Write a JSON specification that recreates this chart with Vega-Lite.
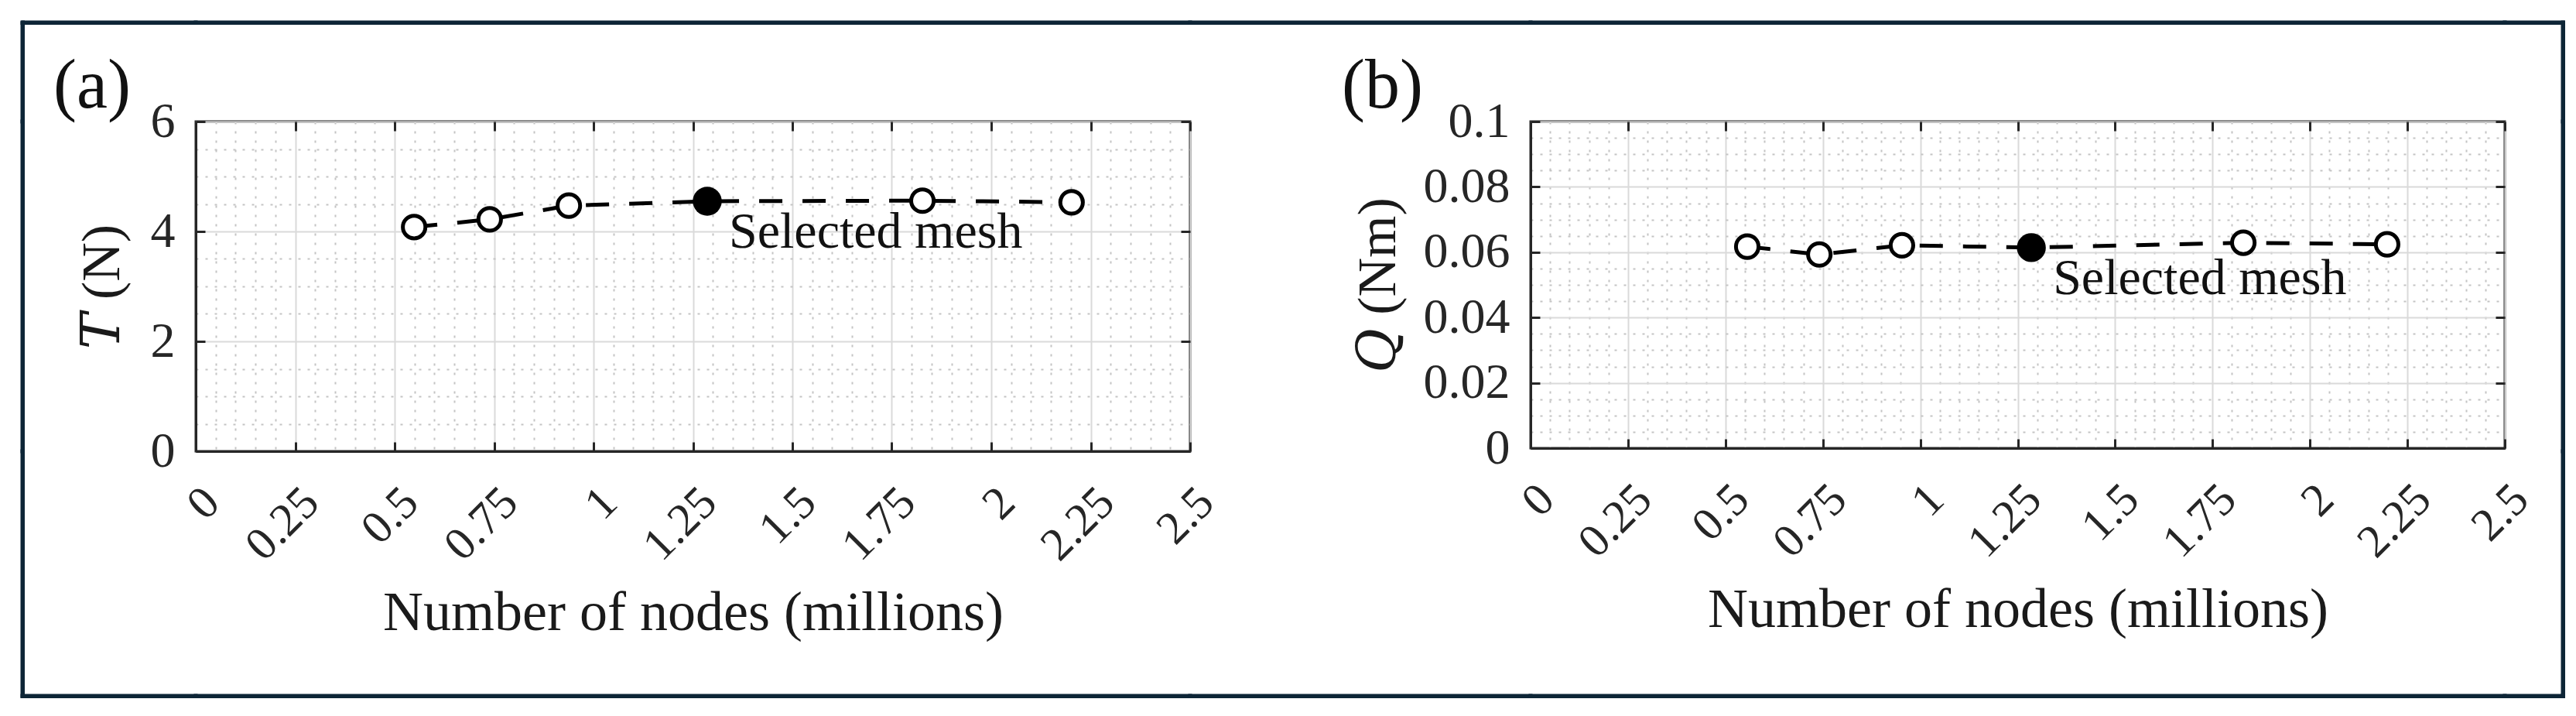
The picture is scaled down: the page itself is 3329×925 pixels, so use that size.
{
  "$schema": "https://vega.github.io/schema/vega-lite/v6.json",
  "background": "white",
  "padding": {"left": 26, "top": 26, "right": 0, "bottom": 0},
  "config": {"view": {"stroke": null}, "font": "Liberation Serif"},
  "concat": [
    {"width": 0.5, "height": 0.5, "data": {"values": []}, "mark": "point", "encoding": {}, "view": {"stroke": "#0d2536", "strokeWidth": 5}},
    {"width": 223, "height": 0.5, "data": {"values": []}, "mark": "point", "encoding": {}, "view": {"stroke": "#0d2536", "strokeWidth": 5}},
    {"width": 1285, "height": 0.5, "data": {"values": []}, "mark": "point", "encoding": {}, "view": {"stroke": "#0d2536", "strokeWidth": 5}},
    {"width": 440, "height": 0.5, "data": {"values": []}, "mark": "point", "encoding": {}, "view": {"stroke": "#0d2536", "strokeWidth": 5}},
    {"width": 1259, "height": 0.5, "data": {"values": []}, "mark": "point", "encoding": {}, "view": {"stroke": "#0d2536", "strokeWidth": 5}},
    {"width": 75, "height": 0.5, "data": {"values": []}, "mark": "point", "encoding": {}, "view": {"stroke": "#0d2536", "strokeWidth": 5}},
    {"width": 0.5, "height": 0.5, "data": {"values": []}, "mark": "point", "encoding": {}, "view": {"stroke": "#0d2536", "strokeWidth": 5}},

    {"width": 0.5, "height": 127, "data": {"values": []}, "mark": "point", "encoding": {}, "view": {"stroke": "#0d2536", "strokeWidth": 5}},
    {"width": 0.01, "height": 0.01, "data": {"values": []}, "mark": "point", "encoding": {}, "view": {"stroke": null}},
    {"width": 0.01, "height": 0.01, "data": {"values": []}, "mark": "point", "encoding": {}, "view": {"stroke": null}},
    {"width": 0.01, "height": 0.01, "data": {"values": []}, "mark": "point", "encoding": {}, "view": {"stroke": null}},
    {"width": 0.01, "height": 0.01, "data": {"values": []}, "mark": "point", "encoding": {}, "view": {"stroke": null}},
    {"width": 0.01, "height": 0.01, "data": {"values": []}, "mark": "point", "encoding": {}, "view": {"stroke": null}},
    {"width": 0.5, "height": 127, "data": {"values": []}, "mark": "point", "encoding": {}, "view": {"stroke": "#0d2536", "strokeWidth": 5}},

    {"width": 0.5, "height": 426, "data": {"values": []}, "mark": "point", "encoding": {}, "view": {"stroke": "#0d2536", "strokeWidth": 5}},
    {"width": 0.01, "height": 0.01, "data": {"values": []}, "mark": "point", "encoding": {}, "view": {"stroke": null}},
    {
      "width": 1285, "height": 426,
      "view": {"stroke": "#262626", "strokeWidth": 3},
      "title": {"text": "(a)", "anchor": "start", "frame": "group", "dx": -184, "offset": -104, "baseline": "alphabetic", "font": "Liberation Serif", "fontSize": 90, "fontWeight": "normal", "color": "#111111"},
      "data": {"values": [
        {"nodes": 0.549, "T": 4.08, "sel": false, "label": ""},
        {"nodes": 0.739, "T": 4.22, "sel": false, "label": ""},
        {"nodes": 0.938, "T": 4.47, "sel": false, "label": ""},
        {"nodes": 1.286, "T": 4.55, "sel": true, "label": "Selected mesh"},
        {"nodes": 1.827, "T": 4.56, "sel": false, "label": ""},
        {"nodes": 2.202, "T": 4.53, "sel": false, "label": ""}
      ]},
      "layer": [
        {
          "mark": {"type": "line", "color": "black", "strokeWidth": 5, "strokeDash": [30, 26]},
          "encoding": {
            "x": {"field": "nodes", "type": "quantitative", "scale": {"domain": [0, 2.5], "nice": false},
              "axis": {
                "values": [0,0.05,0.1,0.15,0.2,0.25,0.3,0.35,0.4,0.45,0.5,0.55,0.6,0.65,0.7,0.75,0.8,0.85,0.9,0.95,1,1.05,1.1,1.15,1.2,1.25,1.3,1.35,1.4,1.45,1.5,1.55,1.6,1.65,1.7,1.75,1.8,1.85,1.9,1.95,2,2.05,2.1,2.15,2.2,2.25,2.3,2.35,2.4,2.45,2.5],
                "labelExpr": "abs(datum.value*4-round(datum.value*4))<1e-6 ? format(datum.value,'~g') : ''",
                "labelAngle": -45, "labelAlign": "right", "labelBaseline": "top",
                "labelFont": "Liberation Serif", "labelFontSize": 60, "labelColor": "#262626",
                "labelOverlap": false, "labelFlush": false, "labelBound": false, "labelPadding": 48,
                "tickSize": -12, "tickWidth": 3, "tickColor": "#262626",
                "tickOpacity": {"condition": {"test": "abs(datum.value*4-round(datum.value*4))<1e-6", "value": 1}, "value": 0},
                "domainColor": "#262626", "domainWidth": 3,
                "grid": true, "gridWidth": 2,
                "gridColor": {"condition": {"test": "abs(datum.value*4-round(datum.value*4))<1e-6", "value": "#dadada"}, "value": "#c4c4c4"},
                "gridDash": {"condition": {"test": "abs(datum.value*4-round(datum.value*4))<1e-6", "value": []}, "value": [3, 9]},
                "title": "Number of nodes (millions)", "titleFont": "Liberation Serif", "titleFontSize": 72, "titleFontWeight": "normal", "titleColor": "#1a1a1a", "titlePadding": 22
              }},
            "y": {"field": "T", "type": "quantitative", "scale": {"domain": [0, 6], "nice": false},
              "axis": {
                "values": [0,0.5,1,1.5,2,2.5,3,3.5,4,4.5,5,5.5,6],
                "labelExpr": "datum.value % 2 == 0 ? format(datum.value,'~g') : ''",
                "labelFont": "Liberation Serif", "labelFontSize": 64, "labelColor": "#262626",
                "labelOverlap": false, "labelFlush": false, "labelBound": false, "labelPadding": 39,
                "tickSize": -12, "tickWidth": 3, "tickColor": "#262626",
                "tickOpacity": {"condition": {"test": "datum.value % 2 == 0", "value": 1}, "value": 0},
                "domainColor": "#262626", "domainWidth": 3,
                "grid": true, "gridWidth": 2,
                "gridColor": {"condition": {"test": "datum.value % 2 == 0", "value": "#dadada"}, "value": "#c4c4c4"},
                "gridDash": {"condition": {"test": "datum.value % 2 == 0", "value": []}, "value": [3, 9]},
                "title": "𝑇 (N)", "titleFont": "Liberation Serif, DejaVu Serif, serif", "titleFontSize": 70, "titleFontWeight": "normal", "titleColor": "#1a1a1a", "titlePadding": 26
              }}
          }
        },
        {
          "transform": [{"filter": "!datum.sel"}],
          "mark": {"type": "point", "shape": "circle", "filled": true, "fill": "white", "stroke": "black", "strokeWidth": 5, "size": 850, "opacity": 1},
          "encoding": {
            "x": {"field": "nodes", "type": "quantitative", "axis": {"orient": "top", "values": [0,0.25,0.5,0.75,1,1.25,1.5,1.75,2,2.25,2.5], "labels": false, "domain": false, "grid": false, "tickSize": -12, "tickWidth": 3, "tickColor": "#262626", "title": null}},
            "y": {"field": "T", "type": "quantitative", "axis": {"orient": "right", "values": [0,2,4,6], "labels": false, "domain": false, "grid": false, "tickSize": -12, "tickWidth": 3, "tickColor": "#262626", "title": null}}
          }
        },
        {
          "transform": [{"filter": "datum.sel"}],
          "mark": {"type": "point", "shape": "circle", "filled": true, "color": "black", "size": 1400, "opacity": 1},
          "encoding": {
            "x": {"field": "nodes", "type": "quantitative", "axis": null},
            "y": {"field": "T", "type": "quantitative", "axis": null}
          }
        },
        {
          "transform": [{"filter": "datum.sel"}],
          "mark": {"type": "text", "align": "left", "baseline": "alphabetic", "dx": 28, "dy": 60, "font": "Liberation Serif", "fontSize": 66, "color": "#111111"},
          "encoding": {
            "x": {"field": "nodes", "type": "quantitative", "axis": null},
            "y": {"field": "T", "type": "quantitative", "axis": null},
            "text": {"field": "label"}
          }
        }
      ],
      "resolve": {"axis": {"x": "independent", "y": "independent"}}
    },
    {"width": 0.01, "height": 0.01, "data": {"values": []}, "mark": "point", "encoding": {}, "view": {"stroke": null}},
    {
      "width": 1259, "height": 422,
      "view": {"stroke": "#262626", "strokeWidth": 3},
      "title": {"text": "(b)", "anchor": "start", "frame": "group", "dx": -244, "offset": -104, "baseline": "alphabetic", "font": "Liberation Serif", "fontSize": 90, "fontWeight": "normal", "color": "#111111"},
      "data": {"values": [
        {"nodes": 0.556, "Q": 0.0617, "sel": false, "label": ""},
        {"nodes": 0.741, "Q": 0.0593, "sel": false, "label": ""},
        {"nodes": 0.953, "Q": 0.0621, "sel": false, "label": ""},
        {"nodes": 1.285, "Q": 0.0614, "sel": true, "label": "Selected mesh"},
        {"nodes": 1.829, "Q": 0.0629, "sel": false, "label": ""},
        {"nodes": 2.198, "Q": 0.0624, "sel": false, "label": ""}
      ]},
      "layer": [
        {
          "mark": {"type": "line", "color": "black", "strokeWidth": 5, "strokeDash": [30, 26]},
          "encoding": {
            "x": {"field": "nodes", "type": "quantitative", "scale": {"domain": [0, 2.5], "nice": false},
              "axis": {
                "values": [0,0.05,0.1,0.15,0.2,0.25,0.3,0.35,0.4,0.45,0.5,0.55,0.6,0.65,0.7,0.75,0.8,0.85,0.9,0.95,1,1.05,1.1,1.15,1.2,1.25,1.3,1.35,1.4,1.45,1.5,1.55,1.6,1.65,1.7,1.75,1.8,1.85,1.9,1.95,2,2.05,2.1,2.15,2.2,2.25,2.3,2.35,2.4,2.45,2.5],
                "labelExpr": "abs(datum.value*4-round(datum.value*4))<1e-6 ? format(datum.value,'~g') : ''",
                "labelAngle": -45, "labelAlign": "right", "labelBaseline": "top",
                "labelFont": "Liberation Serif", "labelFontSize": 60, "labelColor": "#262626",
                "labelOverlap": false, "labelFlush": false, "labelBound": false, "labelPadding": 48,
                "tickSize": -12, "tickWidth": 3, "tickColor": "#262626",
                "tickOpacity": {"condition": {"test": "abs(datum.value*4-round(datum.value*4))<1e-6", "value": 1}, "value": 0},
                "domainColor": "#262626", "domainWidth": 3,
                "grid": true, "gridWidth": 2,
                "gridColor": {"condition": {"test": "abs(datum.value*4-round(datum.value*4))<1e-6", "value": "#dadada"}, "value": "#c4c4c4"},
                "gridDash": {"condition": {"test": "abs(datum.value*4-round(datum.value*4))<1e-6", "value": []}, "value": [3, 9]},
                "title": "Number of nodes (millions)", "titleFont": "Liberation Serif", "titleFontSize": 72, "titleFontWeight": "normal", "titleColor": "#1a1a1a", "titlePadding": 22
              }},
            "y": {"field": "Q", "type": "quantitative", "scale": {"domain": [0, 0.1], "nice": false},
              "axis": {
                "values": [0,0.005,0.01,0.015,0.02,0.025,0.03,0.035,0.04,0.045,0.05,0.055,0.06,0.065,0.07,0.075,0.08,0.085,0.09,0.095,0.1],
                "labelExpr": "abs(datum.value*50-round(datum.value*50))<1e-6 ? format(datum.value,'~g') : ''",
                "labelFont": "Liberation Serif", "labelFontSize": 64, "labelColor": "#262626",
                "labelOverlap": false, "labelFlush": false, "labelBound": false, "labelPadding": 39,
                "tickSize": -12, "tickWidth": 3, "tickColor": "#262626",
                "tickOpacity": {"condition": {"test": "abs(datum.value*50-round(datum.value*50))<1e-6", "value": 1}, "value": 0},
                "domainColor": "#262626", "domainWidth": 3,
                "grid": true, "gridWidth": 2,
                "gridColor": {"condition": {"test": "abs(datum.value*50-round(datum.value*50))<1e-6", "value": "#dadada"}, "value": "#c4c4c4"},
                "gridDash": {"condition": {"test": "abs(datum.value*50-round(datum.value*50))<1e-6", "value": []}, "value": [3, 9]},
                "title": "𝑄 (Nm)", "titleFont": "Liberation Serif, DejaVu Serif, serif", "titleFontSize": 70, "titleFontWeight": "normal", "titleColor": "#1a1a1a", "titlePadding": 22
              }}
          }
        },
        {
          "transform": [{"filter": "!datum.sel"}],
          "mark": {"type": "point", "shape": "circle", "filled": true, "fill": "white", "stroke": "black", "strokeWidth": 5, "size": 850, "opacity": 1},
          "encoding": {
            "x": {"field": "nodes", "type": "quantitative", "axis": {"orient": "top", "values": [0,0.25,0.5,0.75,1,1.25,1.5,1.75,2,2.25,2.5], "labels": false, "domain": false, "grid": false, "tickSize": -12, "tickWidth": 3, "tickColor": "#262626", "title": null}},
            "y": {"field": "Q", "type": "quantitative", "axis": {"orient": "right", "values": [0,0.02,0.04,0.06,0.08,0.1], "labels": false, "domain": false, "grid": false, "tickSize": -12, "tickWidth": 3, "tickColor": "#262626", "title": null}}
          }
        },
        {
          "transform": [{"filter": "datum.sel"}],
          "mark": {"type": "point", "shape": "circle", "filled": true, "color": "black", "size": 1400, "opacity": 1},
          "encoding": {
            "x": {"field": "nodes", "type": "quantitative", "axis": null},
            "y": {"field": "Q", "type": "quantitative", "axis": null}
          }
        },
        {
          "transform": [{"filter": "datum.sel"}],
          "mark": {"type": "text", "align": "left", "baseline": "alphabetic", "dx": 28, "dy": 60, "font": "Liberation Serif", "fontSize": 66, "color": "#111111"},
          "encoding": {
            "x": {"field": "nodes", "type": "quantitative", "axis": null},
            "y": {"field": "Q", "type": "quantitative", "axis": null},
            "text": {"field": "label"}
          }
        }
      ],
      "resolve": {"axis": {"x": "independent", "y": "independent"}}
    },
    {"width": 0.01, "height": 0.01, "data": {"values": []}, "mark": "point", "encoding": {}, "view": {"stroke": null}},
    {"width": 0.5, "height": 426, "data": {"values": []}, "mark": "point", "encoding": {}, "view": {"stroke": "#0d2536", "strokeWidth": 5}},

    {"width": 0.5, "height": 316, "data": {"values": []}, "mark": "point", "encoding": {}, "view": {"stroke": "#0d2536", "strokeWidth": 5}},
    {"width": 0.01, "height": 0.01, "data": {"values": []}, "mark": "point", "encoding": {}, "view": {"stroke": null}},
    {"width": 0.01, "height": 0.01, "data": {"values": []}, "mark": "point", "encoding": {}, "view": {"stroke": null}},
    {"width": 0.01, "height": 0.01, "data": {"values": []}, "mark": "point", "encoding": {}, "view": {"stroke": null}},
    {"width": 0.01, "height": 0.01, "data": {"values": []}, "mark": "point", "encoding": {}, "view": {"stroke": null}},
    {"width": 0.01, "height": 0.01, "data": {"values": []}, "mark": "point", "encoding": {}, "view": {"stroke": null}},
    {"width": 0.5, "height": 316, "data": {"values": []}, "mark": "point", "encoding": {}, "view": {"stroke": "#0d2536", "strokeWidth": 5}},

    {"width": 0.5, "height": 0.5, "data": {"values": []}, "mark": "point", "encoding": {}, "view": {"stroke": "#0d2536", "strokeWidth": 5}},
    {"width": 223, "height": 0.5, "data": {"values": []}, "mark": "point", "encoding": {}, "view": {"stroke": "#0d2536", "strokeWidth": 5}},
    {"width": 1285, "height": 0.5, "data": {"values": []}, "mark": "point", "encoding": {}, "view": {"stroke": "#0d2536", "strokeWidth": 5}},
    {"width": 440, "height": 0.5, "data": {"values": []}, "mark": "point", "encoding": {}, "view": {"stroke": "#0d2536", "strokeWidth": 5}},
    {"width": 1259, "height": 0.5, "data": {"values": []}, "mark": "point", "encoding": {}, "view": {"stroke": "#0d2536", "strokeWidth": 5}},
    {"width": 75, "height": 0.5, "data": {"values": []}, "mark": "point", "encoding": {}, "view": {"stroke": "#0d2536", "strokeWidth": 5}},
    {"width": 0.5, "height": 0.5, "data": {"values": []}, "mark": "point", "encoding": {}, "view": {"stroke": "#0d2536", "strokeWidth": 5}}
  ],
  "columns": 7,
  "spacing": 0,
  "bounds": "flush",
  "align": "each"
}
